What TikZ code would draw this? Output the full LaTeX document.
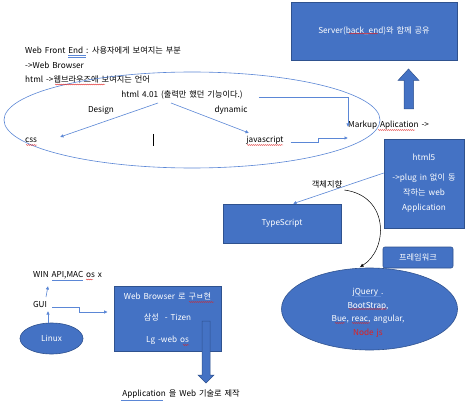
\documentclass[tikz,border=0pt]{standalone}
\usepackage{fontspec}
\setmainfont[WordSpace=1.6]{Noto Sans CJK KR}
\usetikzlibrary{arrows.meta,shapes.geometric,decorations.pathmorphing,calc}
\definecolor{ofblue}{HTML}{4472C4}
\definecolor{ofedge}{HTML}{2F528F}
\definecolor{lnblue}{HTML}{5B87D6}
\definecolor{sqred}{HTML}{E02020}
\begin{document}
\begin{tikzpicture}[x=1pt,y=-1pt,
  font=\fontsize{8.2}{9}\selectfont,
  bluebox/.style={fill=ofblue,draw=ofedge,line width=0.6pt,text=white,inner sep=0pt,align=center},
  conn/.style={draw=lnblue,line width=0.6pt,-{Latex[length=3.5pt,width=3.5pt]}},
  lbl/.style={inner sep=0pt,anchor=west},
  ctr/.style={inner sep=0pt},
  squig/.style={draw=sqred,line width=0.35pt,decorate,decoration={snake,amplitude=0.5pt,segment length=2pt}},
  uline/.style={draw=lnblue,line width=0.5pt},
  blockarrow/.style={fill=ofblue,draw=ofedge,line width=0.5pt}]
\useasboundingbox[fill=white] (0,0) rectangle (471,409);

% ---- top right server box and block arrow
\node[bluebox,minimum width=166pt,minimum height=58pt] (server) at (374,31) {Server(back\_end)와 함께 공유};
\draw[blockarrow] (404,109) -- (404,80.5) -- (398,80.5) -- (408.5,69) -- (419,80.5) -- (413.5,80.5) -- (413.5,109) -- cycle;

% ---- top-left texts
\node[lbl] (wfe) at (25,50) {Web Front End : 사용자에게 보여지는 부분};
\node[lbl] (wb) at (25,65) {->Web Browser};
\node[lbl] (hl) at (25,79) {html ->웹브라우즈에 보여지는 언어};

% ---- big ellipse
\node[draw=lnblue,line width=0.6pt,ellipse,minimum width=376pt,minimum height=96pt,inner sep=0pt] (big) at (192,120) {};

\node[ctr] (h401) at (182,95) {html 4.01 (출력만 했던 기능이다.)};
\node[ctr] (design) at (101,110) {Design};
\node[ctr] (dynamic) at (231,110) {dynamic};
\node[ctr] (css) at (31,140) {css};
\node[ctr] (js) at (265,140) {javascript};
\node[lbl] (markup) at (348,125) {Markup Aplication ->};
\draw[line width=0.6pt] (153,134) -- (153,146);

\coordinate (cssin) at (60,137);
\coordinate (jsin) at (249,133);
\draw[conn] (158,103) -- (cssin);
\draw[conn] (171,103) -- (jsin);
\draw[conn] ($(h401.east)+(16,2)$) -| ($(markup.west)+(0,2)$);
\draw[conn] ($(js.east)+(7,2)$) -- (318,142) -- (318,138) -- ($(markup.west)+(0,13)$);

% ---- html5 box
\node[bluebox,minimum width=80pt,minimum height=89pt,font=\fontsize{8.2}{15}\selectfont] (html5) at (424,183.5) {html5\\[5pt]->plug in 없이 동\\작하는 web\\Application};

% ---- TypeScript
\node[bluebox,minimum width=118pt,minimum height=39pt] (ts) at (282,223.5) {TypeScript};
\draw[conn] (html5.west|-0,173) -- ($(ts.north)+(11,0)$);
\node[ctr] (oop) at (327,184) {객체지향};

% ---- framework
\node[bluebox,rounded corners=2pt,minimum width=70pt,minimum height=21pt] (fw) at (418,257.5) {프레임워크};
\node[bluebox,ellipse,minimum width=176pt,minimum height=82pt] (fwe) at (369.5,309) {};
\node[ctr,text=white,align=center,font=\fontsize{8.2}{13.5}\selectfont] (fwtext) at (368,313) {jQuery .\\BootStrap,\\Bue, reac, angular,\\\textcolor{sqred}{Node js}};
\draw[black,line width=0.5pt,-{Latex[length=3.5pt,width=3.5pt]}] ($(oop.east)+(2,6)$) .. controls (390,196) and (388,250) .. (360,267);

% ---- lower left
\node[lbl] (win) at (33,275) {WIN API,MAC os x};
\node[ctr] (gui) at (40,304) {GUI};
\node[bluebox,ellipse,minimum width=63pt,minimum height=31pt] (linux) at (51.5,338.5) {Linux};
\draw[conn] (linux.north-|48,0) -- (48,311);
\draw[conn] (46,297) -- (48,286);
\node[bluebox,minimum width=107pt,minimum height=65pt,font=\fontsize{8.2}{21.5}\selectfont] (wbox) at (167.5,318.5) {Web Browser 로 구ㅂ현\\삼성 \ - Tizen\\Lg -web os};
\draw[conn] ($(gui.east)+(5,3)$) -- (79,307) -- (79,312) -- ($(wbox.west)+(-6,-6.5)$);
\draw[blockarrow] (202,321) -- (202,375) -- (198,375) -- (206,383) -- (214,375) -- (210,375) -- (210,321) -- cycle;
\node[ctr] (appw) at (181,394) {Application 을 Web 기술로 제작};

% ---- underlines (spell-check marks)
\draw[uline] (68,55.5) -- (86,55.5);
\draw[uline] (68,57) -- (86,57);
\draw[squig] (55,84.5) -- (105,84.5);
\draw[squig] (26,145) -- (37,145);
\draw[squig] (247,145) -- (283,145);
\draw[squig] (378,130) -- (415,130);
\draw[squig] (349,33.5) -- (378,33.5);
\draw[squig] (189,302) -- (214,302);
\draw[squig] (183,345) -- (189,345);
\draw[squig] (86,279.5) -- (93,279.5);
\draw[uline] (52,280) -- (83,280);
\draw[uline] (121,400) -- (163,400);
\draw[uline] (355,296) -- (381,296);
\draw[squig] (349,309) -- (387,309);
\draw[squig] (335,323) -- (345,323);
\draw[squig] (352,323) -- (370,323);
\end{tikzpicture}
\end{document}
